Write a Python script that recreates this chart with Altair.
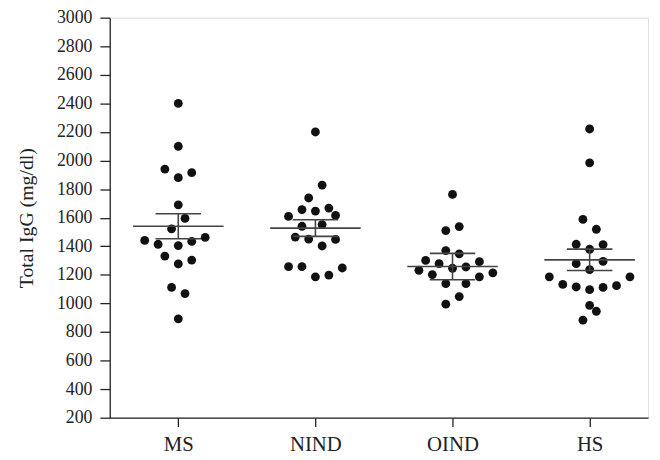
import altair as alt
import pandas as pd

groups = ["MS", "NIND", "OIND", "HS"]

# IgG values (mg/dl), with beeswarm slot (horizontal spread step)
ms_vals = [2400, 2100, 1940, 1915, 1880, 1690, 1595, 1522, 1441, 1414, 1405, 1434, 1462, 1331, 1276, 1303, 1112, 1069, 892]
ms_slots = [0, 0, -2, 2, 0, 0, 1, -1, -5, -3, 0, 2, 4, -2, 0, 2, -1, 1, 0]

nind_vals = [2200, 1828, 1738, 1657, 1646, 1667, 1609, 1616, 1540, 1552, 1464, 1450, 1448, 1402, 1257, 1257, 1248, 1186, 1198]
nind_slots = [0, 1, -1, -2, 0, 2, -4, 3, -2, 1, -3, -1, 3, 1, -4, -2, 4, 0, 2]

oind_vals = [1763, 1510, 1538, 1370, 1347, 1301, 1278, 1292, 1232, 1246, 1255, 1202, 1214, 1186, 1138, 1138, 1048, 995]
oind_slots = [0, -1, 1, -1, 1, -4, -2, 4, -5, 0, 2, -3, 6, 4, -1, 2, 1, -1]

hs_vals = [2221, 1984, 1588, 1519, 1414, 1412, 1379, 1278, 1294, 1236, 1186, 1186, 1133, 1115, 1096, 1112, 1124, 986, 945, 883]
hs_slots = [0, 0, -1, 1, -2, 2, 0, -2, 2, 0, -6, 6, -4, -2, 0, 2, 4, 0, 1, -1]

mean_vals = [1540, 1527, 1258, 1305]
sem_vals = [87, 58, 92, 75]

all_vals = [ms_vals, nind_vals, oind_vals, hs_vals]
all_slots = [ms_slots, nind_slots, oind_slots, hs_slots]

rows = []
for i, g in enumerate(groups):
    for v, s in zip(all_vals[i], all_slots[i]):
        rows.append({"group": g, "idx": i, "value": v, "slot": s})
pts = pd.DataFrame(rows)

summ = pd.DataFrame({"group": groups, "idx": list(range(len(groups))),
                     "mean": mean_vals, "sem": sem_vals})

label_expr = "[" + ",".join("'%s'" % g for g in groups) + "][datum.value]"

FONT = "Liberation Serif"
TXT = "#222222"

x_axis = alt.Axis(values=list(range(len(groups))), labelExpr=label_expr, title=None,
                  grid=False, tickSize=9, labelPadding=7, labelFontSize=21,
                  labelFont=FONT, labelColor=TXT, domainColor="#222222",
                  tickColor="#222222", domainWidth=1.3, tickWidth=1.3, labelFlush=False)
y_axis = alt.Axis(values=list(range(200, 3001, 200)), format="d", title="Total IgG (mg/dl)",
                  grid=False, tickSize=10, labelPadding=8, labelFontSize=18,
                  labelFont=FONT, labelColor=TXT, titleFont=FONT, titleFontSize=20,
                  titleFontWeight="normal", titleColor=TXT, titlePadding=20,
                  domainColor="#222222", tickColor="#222222", domainWidth=1.3, tickWidth=1.3)

x_scale = alt.Scale(domain=[-0.5, 3.426], nice=False, zero=False)
y_scale = alt.Scale(domain=[200, 3000], nice=False, zero=False)

points = alt.Chart(pts).transform_calculate(
    xpos="datum.idx + datum.slot * 0.049"
).mark_circle(size=80, color="#111111", opacity=1).encode(
    x=alt.X("xpos:Q", scale=x_scale, axis=x_axis),
    y=alt.Y("value:Q", scale=y_scale, axis=y_axis),
)

base = alt.Chart(summ).transform_calculate(
    xm1="datum.idx - 0.33", xm2="datum.idx + 0.33",
    xc1="datum.idx - 0.166", xc2="datum.idx + 0.166",
    lo="datum.mean - datum.sem", hi="datum.mean + datum.sem",
)

LINE = "#444444"
mean_rule = base.mark_rule(color=LINE, strokeWidth=1.6).encode(
    x=alt.X("xm1:Q", scale=x_scale, axis=x_axis), x2="xm2:Q",
    y=alt.Y("mean:Q", scale=y_scale, axis=y_axis))
cap_hi = base.mark_rule(color=LINE, strokeWidth=1.6).encode(
    x=alt.X("xc1:Q", scale=x_scale, axis=x_axis), x2="xc2:Q",
    y=alt.Y("hi:Q", scale=y_scale, axis=y_axis))
cap_lo = base.mark_rule(color=LINE, strokeWidth=1.6).encode(
    x=alt.X("xc1:Q", scale=x_scale, axis=x_axis), x2="xc2:Q",
    y=alt.Y("lo:Q", scale=y_scale, axis=y_axis))
vert = base.mark_rule(color=LINE, strokeWidth=1.6).encode(
    x=alt.X("idx:Q", scale=x_scale, axis=x_axis),
    y=alt.Y("lo:Q", scale=y_scale, axis=y_axis), y2="hi:Q")

chart = alt.layer(points, mean_rule, cap_hi, cap_lo, vert).properties(
    width=545, height=405,
    autosize=alt.AutoSizeParams(type="none"),
    padding={"left": 103, "top": 7, "right": 4, "bottom": 38},
).configure_view(stroke=None).configure(background="white")

chart.save("out.html", embed_options={"renderer": "svg", "actions": False})
